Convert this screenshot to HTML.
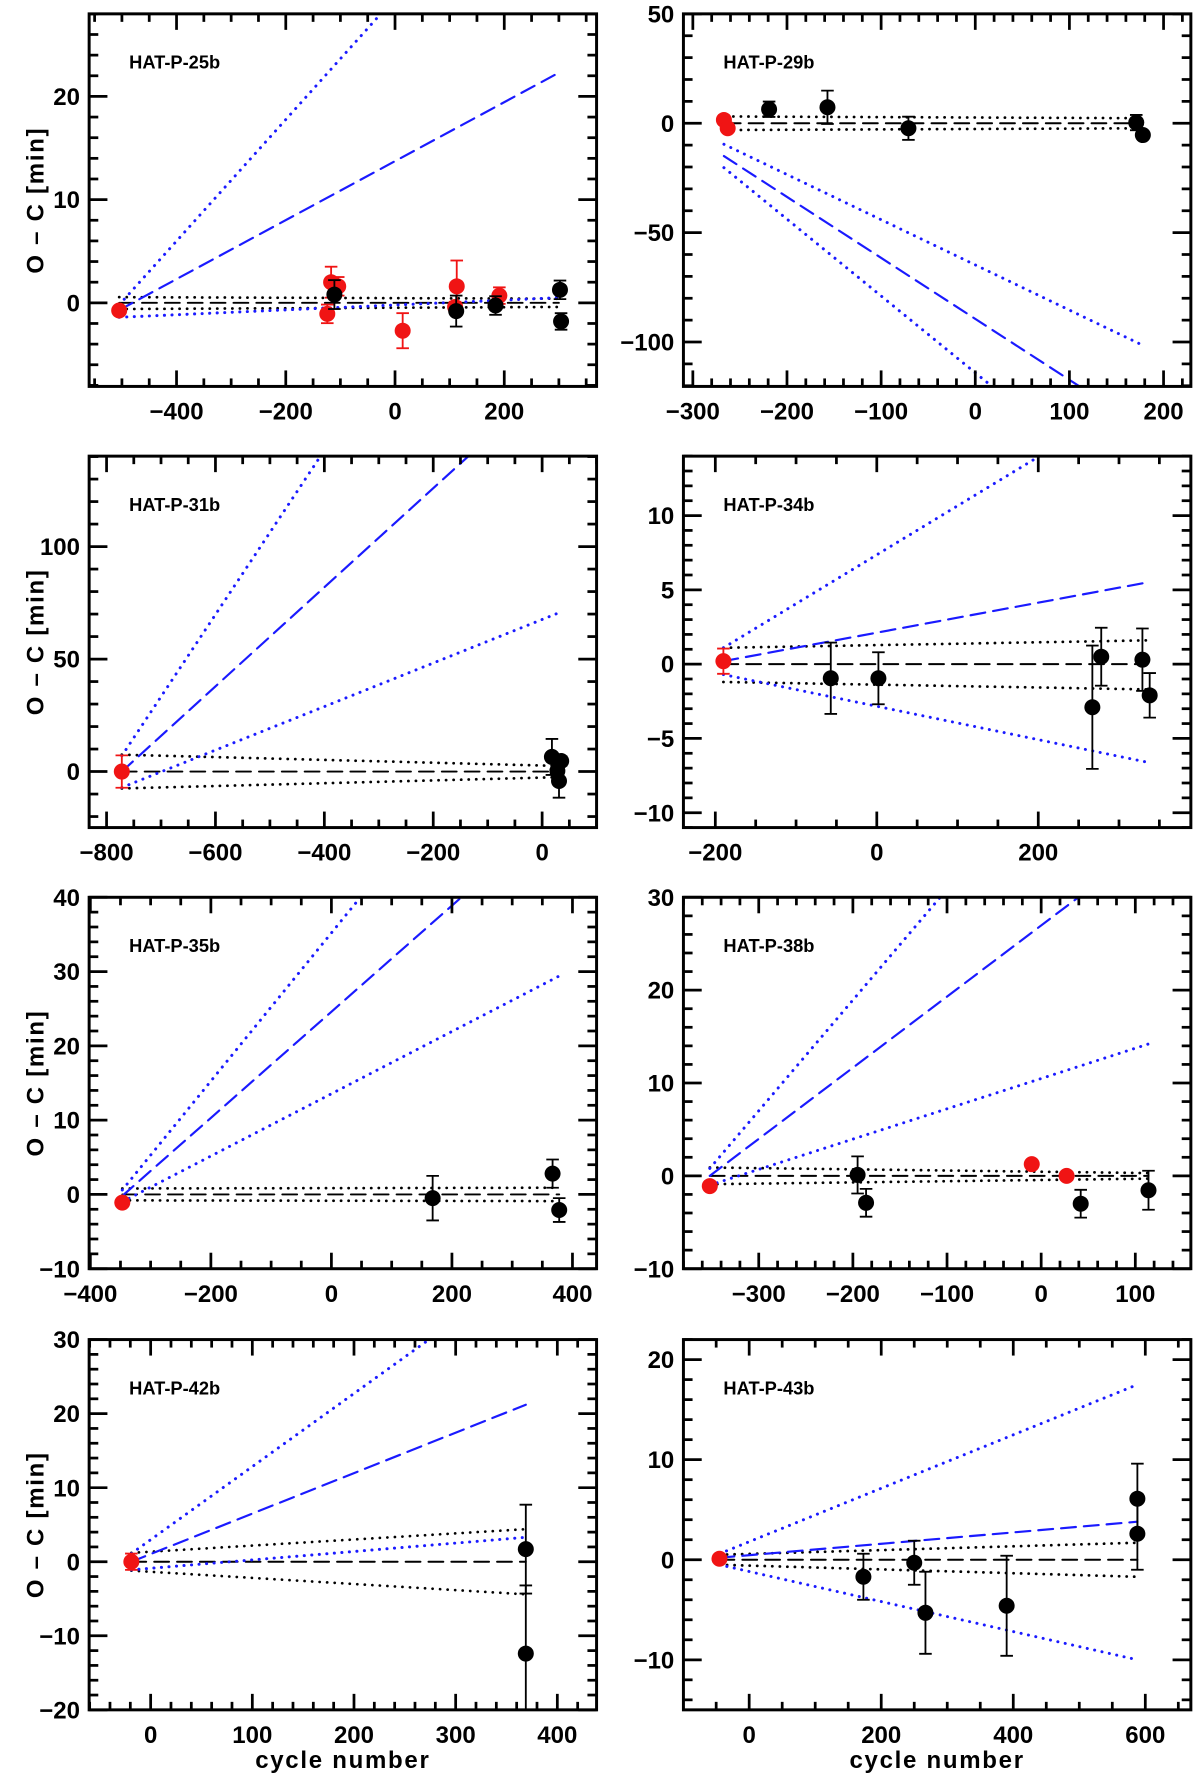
<!DOCTYPE html>
<html><head><meta charset="utf-8"><title>O-C diagrams</title>
<style>
html,body{margin:0;padding:0;background:#fff;}
svg{display:block;}
text{font-family:"Liberation Sans",Arial,sans-serif;font-weight:bold;fill:#000;}
</style></head>
<body>
<svg id="fig" xmlns="http://www.w3.org/2000/svg" width="1200" height="1782" viewBox="0 0 1050 1559">
<rect x="0" y="0" width="1050" height="1559" fill="#fff"/>
</svg>
<script>
// ===== DATA (per panel) =====
// HAT-P-25b
const p25_x   = [-505,-117,-104,-124,14,110,113,191,-111,112,184,302,304];
const p25_y   = [-0.74,2.0,1.6,-1.07,-2.7,-0.4,1.6,0.7,0.8,-0.8,-0.26,1.26,-1.8];
const p25_err = [0.3,1.5,0.9,0.9,1.7,0.5,2.5,0.8,1.4,1.5,0.9,0.9,0.8];
const p25_red = [1,1,1,1,1,1,1,1,0,0,0,0,0];
const p25_xr = [-560,369], p25_yr = [-8.1,28];
const p25_xt = [-400,-200,0,200], p25_yt = [0,10,20];
const p25_fitx = [-505,300], p25_fitUp = [0.55,0.4], p25_fitLo = [-0.6,-0.4];
const p25_altx = [-505,300], p25_alt = [-0.7,22.3], p25_altUp = [-0.2,47.2], p25_altLo = [-1.4,0.5];

// HAT-P-29b
const p29_x   = [-267,-263,-219,-157,-71,171,178];
const p29_y   = [1.5,-2.3,6.4,7.3,-2.3,0.3,-5.4];
const p29_err = [0,0,3.5,7.6,5.3,3.5,1.5];
const p29_red = [1,1,0,0,0,0,0];
const p29_xr = [-310,229], p29_yr = [-120.3,50];
const p29_xt = [-300,-200,-100,0,100,200], p29_yt = [-100,-50,0,50];
const p29_fitx = [-265,175], p29_fitUp = [3.1,2.3], p29_fitLo = [-3.1,-2.3];
const p29_altx = [-267,175], p29_alt = [-15,-138.2], p29_altUp = [-9.6,-100.9], p29_altLo = [-20.3,-175.5];

// HAT-P-31b
const p31_x   = [-772,18,35,28,31];
const p31_y   = [0,6.5,4.7,0.3,-4.2];
const p31_err = [7.2,8,2,2,7.4];
const p31_red = [1,0,0,0,0];
const p31_xr = [-832,100], p31_yr = [-24.9,140.2];
const p31_xt = [-800,-600,-400,-200,0], p31_yt = [0,50,100];
const p31_fitx = [-772,30], p31_fitUp = [7.5,2.5], p31_fitLo = [-7.5,-2.5];
const p31_altx = [-772,30], p31_alt = [0,176.6], p31_altUp = [7,299.7], p31_altLo = [-7.1,70.5];

// HAT-P-34b
const p34_x   = [-190,-57,2,267,278,329,338];
const p34_y   = [0.2,-0.95,-0.95,-2.9,0.5,0.3,-2.1];
const p34_err = [0.85,2.4,1.75,4.15,1.95,2.1,1.5];
const p34_red = [1,0,0,0,0,0,0];
const p34_xr = [-239.5,389], p34_yr = [-11,14];
const p34_xt = [-200,0,200], p34_yt = [-10,-5,0,5,10];
const p34_fitx = [-190,335], p34_fitUp = [1.1,1.6], p34_fitLo = [-1.2,-1.7];
const p34_altx = [-190,335], p34_alt = [0.2,5.5], p34_altUp = [1.1,18.4], p34_altLo = [-0.7,-6.6];

// HAT-P-35b
const p35_x   = [-347,168,367,378];
const p35_y   = [-1.1,-0.5,2.8,-2.1];
const p35_err = [0.4,3,1.9,1.6];
const p35_red = [1,0,0,0];
const p35_xr = [-402,440], p35_yr = [-10,40];
const p35_xt = [-400,-200,0,200,400], p35_yt = [-10,0,10,20,30,40];
const p35_fitx = [-347,378], p35_fitUp = [0.8,0.9], p35_fitLo = [-0.8,-0.9];
const p35_altx = [-347,378], p35_alt = [-0.2,51.6], p35_altUp = [0.6,72.9], p35_altLo = [-1,29.4];

// HAT-P-38b
const p38_x   = [-352,-10,27,-195,-186,42,114];
const p38_y   = [-1.1,1.26,0,0.1,-2.9,-3.0,-1.55];
const p38_err = [0.3,0.3,0.3,2,1.5,1.5,2.1];
const p38_red = [1,1,1,0,0,0,0];
const p38_xr = [-380,159], p38_yr = [-10,30];
const p38_xt = [-300,-200,-100,0,100], p38_yt = [-10,0,10,20,30];
const p38_fitx = [-352,114], p38_fitUp = [0.9,0.3], p38_fitLo = [-0.9,-0.3];
const p38_altx = [-352,114], p38_alt = [0,35.7], p38_altUp = [0.8,56.4], p38_altLo = [-1,14.2];

// HAT-P-42b
const p42_x   = [-19,369,369];
const p42_y   = [0,1.7,-12.4];
const p42_err = [1.1,6,9.2];
const p42_red = [1,0,0];
const p42_xr = [-60.5,438.6], p42_yr = [-20,30];
const p42_xt = [0,100,200,300,400], p42_yt = [-20,-10,0,10,20,30];
const p42_fitx = [-19,369], p42_fitUp = [1.2,4.4], p42_fitLo = [-1.2,-4.4];
const p42_altx = [-19,369], p42_alt = [0,21.2], p42_altUp = [1.1,39.4], p42_altLo = [-1.1,3.3];

// HAT-P-43b
const p43_x   = [-45,173,250,267,390,588,588];
const p43_y   = [0.1,-1.7,-0.3,-5.3,-4.6,6.1,2.6];
const p43_err = [0.3,2.3,2.2,4.1,5,3.5,3.6];
const p43_red = [1,0,0,0,0,0,0];
const p43_xr = [-99.6,669], p43_yr = [-15,22];
const p43_xt = [0,200,400,600], p43_yt = [-10,0,10,20];
const p43_fitx = [-45,588], p43_fitUp = [0.5,1.7], p43_fitLo = [-0.5,-1.7];
const p43_altx = [-45,588], p43_alt = [0.2,3.8], p43_altUp = [0.6,17.5], p43_altLo = [-0.5,-10];

// ===== LAYOUT =====
const NS = "http://www.w3.org/2000/svg";
const svg = document.getElementById('fig');
function mk(tag, attrs, parent){
  const e = document.createElementNS(NS, tag);
  for (const k in attrs) e.setAttribute(k, attrs[k]);
  (parent||svg).appendChild(e);
  return e;
}
const cols = [[78,522],[598,1042]];
const rows = [[12,338],[399,724],[785,1110],[1172,1496]];
const panels = [
  {id:'hat-p-25b', t:'HAT-P-25b', c:0, r:0, x:p25_x, y:p25_y, e:p25_err, red:p25_red, xr:p25_xr, yr:p25_yr, xt:p25_xt, yt:p25_yt, xm:50, ym:2, fx:p25_fitx, fu:p25_fitUp, fl:p25_fitLo, ax:p25_altx, a:p25_alt, au:p25_altUp, al:p25_altLo},
  {id:'hat-p-29b', t:'HAT-P-29b', c:1, r:0, x:p29_x, y:p29_y, e:p29_err, red:p29_red, xr:p29_xr, yr:p29_yr, xt:p29_xt, yt:p29_yt, xm:20, ym:10, fx:p29_fitx, fu:p29_fitUp, fl:p29_fitLo, ax:p29_altx, a:p29_alt, au:p29_altUp, al:p29_altLo},
  {id:'hat-p-31b', t:'HAT-P-31b', c:0, r:1, x:p31_x, y:p31_y, e:p31_err, red:p31_red, xr:p31_xr, yr:p31_yr, xt:p31_xt, yt:p31_yt, xm:50, ym:10, fx:p31_fitx, fu:p31_fitUp, fl:p31_fitLo, ax:p31_altx, a:p31_alt, au:p31_altUp, al:p31_altLo},
  {id:'hat-p-34b', t:'HAT-P-34b', c:1, r:1, x:p34_x, y:p34_y, e:p34_err, red:p34_red, xr:p34_xr, yr:p34_yr, xt:p34_xt, yt:p34_yt, xm:50, ym:1, fx:p34_fitx, fu:p34_fitUp, fl:p34_fitLo, ax:p34_altx, a:p34_alt, au:p34_altUp, al:p34_altLo},
  {id:'hat-p-35b', t:'HAT-P-35b', c:0, r:2, x:p35_x, y:p35_y, e:p35_err, red:p35_red, xr:p35_xr, yr:p35_yr, xt:p35_xt, yt:p35_yt, xm:50, ym:2, fx:p35_fitx, fu:p35_fitUp, fl:p35_fitLo, ax:p35_altx, a:p35_alt, au:p35_altUp, al:p35_altLo},
  {id:'hat-p-38b', t:'HAT-P-38b', c:1, r:2, x:p38_x, y:p38_y, e:p38_err, red:p38_red, xr:p38_xr, yr:p38_yr, xt:p38_xt, yt:p38_yt, xm:20, ym:2, fx:p38_fitx, fu:p38_fitUp, fl:p38_fitLo, ax:p38_altx, a:p38_alt, au:p38_altUp, al:p38_altLo},
  {id:'hat-p-42b', t:'HAT-P-42b', c:0, r:3, x:p42_x, y:p42_y, e:p42_err, red:p42_red, xr:p42_xr, yr:p42_yr, xt:p42_xt, yt:p42_yt, xm:20, ym:2, fx:p42_fitx, fu:p42_fitUp, fl:p42_fitLo, ax:p42_altx, a:p42_alt, au:p42_altUp, al:p42_altLo},
  {id:'hat-p-43b', t:'HAT-P-43b', c:1, r:3, x:p43_x, y:p43_y, e:p43_err, red:p43_red, xr:p43_xr, yr:p43_yr, xt:p43_xt, yt:p43_yt, xm:50, ym:2, fx:p43_fitx, fu:p43_fitUp, fl:p43_fitLo, ax:p43_altx, a:p43_alt, au:p43_altUp, al:p43_altLo}
];
const defs = mk('defs', {});
const RED = '#f01414', BLUE = '#1a1aff';

panels.forEach(function(P){
  const L = cols[P.c][0], R = cols[P.c][1], T = rows[P.r][0], B = rows[P.r][1];
  const sx = v => L + (v - P.xr[0]) / (P.xr[1] - P.xr[0]) * (R - L);
  const sy = v => B - (v - P.yr[0]) / (P.yr[1] - P.yr[0]) * (B - T);
  const g = mk('g', {});
  
  

  const cp = mk('clipPath', {id:'clip-' + P.id}, defs);
  mk('rect', {x:L, y:T, width:R-L, height:B-T}, cp);
  const plot = mk('g', {'clip-path':'url(#clip-' + P.id + ')'}, g);
  
  

  function line(xs, ys, color, dash, w, name){
    const l = mk('line', {x1:sx(xs[0]), y1:sy(ys[0]), x2:sx(xs[1]), y2:sy(ys[1]), stroke:color, 'stroke-width':w, 'stroke-dasharray':dash, 'stroke-linecap':'round'}, plot);
    
    
  }
  line(P.fx, [0,0], '#000', '13 7', 1.7, 'linear-ephemeris-line');
  line(P.fx, P.fu, '#000', '0.1 6.5', 2.4, 'ephemeris-upper-bound');
  line(P.fx, P.fl, '#000', '0.1 6.5', 2.4, 'ephemeris-lower-bound');
  line(P.ax, P.a, BLUE, '13 7', 1.9, 'previous-ephemeris-line');
  line(P.ax, P.au, BLUE, '0.1 6.5', 2.6, 'previous-ephemeris-upper');
  line(P.ax, P.al, BLUE, '0.1 6.5', 2.6, 'previous-ephemeris-lower');

  for (let i = 0; i < P.x.length; i++){
    const col = P.red[i] ? RED : '#000';
    const cx = sx(P.x[i]), cy = sy(P.y[i]);
    const pg = mk('g', {}, plot);
    
    
    if (P.e[i] > 0){
      const y1 = sy(P.y[i] + P.e[i]), y2 = sy(P.y[i] - P.e[i]);
      mk('line', {x1:cx, y1:y1, x2:cx, y2:y2, stroke:col, 'stroke-width':1.6}, pg);
      mk('line', {x1:cx-5.5, y1:y1, x2:cx+5.5, y2:y1, stroke:col, 'stroke-width':1.6}, pg);
      mk('line', {x1:cx-5.5, y1:y2, x2:cx+5.5, y2:y2, stroke:col, 'stroke-width':1.6}, pg);
    }
    mk('circle', {cx:cx, cy:cy, r:7, fill:col}, pg);
  }

  const fr = mk('rect', {x:L, y:T, width:R-L, height:B-T, fill:'none', stroke:'#000', 'stroke-width':2.6}, g);
  
  

  const tk = mk('g', {stroke:'#000', 'stroke-width':2.4}, g);
  
  
  const x0 = Math.ceil(P.xr[0] / P.xm) * P.xm;
  for (let v = x0; v <= P.xr[1] + 1e-9; v += P.xm){
    const major = P.xt.indexOf(Math.round(v)) >= 0;
    const len = major ? 14 : 7, X = sx(v);
    mk('line', {x1:X, y1:B, x2:X, y2:B-len}, tk);
    mk('line', {x1:X, y1:T, x2:X, y2:T+len}, tk);
  }
  const y0 = Math.ceil(P.yr[0] / P.ym - 1e-9) * P.ym;
  for (let v = y0; v <= P.yr[1] + 1e-9; v += P.ym){
    const vv = Math.round(v * 1000) / 1000;
    const major = P.yt.indexOf(vv) >= 0;
    const len = major ? 16 : 8, Y = sy(vv);
    mk('line', {x1:L, y1:Y, x2:L+len, y2:Y}, tk);
    mk('line', {x1:R, y1:Y, x2:R-len, y2:Y}, tk);
  }
  P.xt.forEach(function(v){
    const t = mk('text', {x:sx(v), y:B+29, 'text-anchor':'middle', 'font-size':21}, g);
    t.textContent = v < 0 ? '\u2212' + Math.abs(v) : String(v);
    
    
  });
  P.yt.forEach(function(v){
    const t = mk('text', {x:L-8, y:sy(v)+7.5, 'text-anchor':'end', 'font-size':21}, g);
    t.textContent = v < 0 ? '\u2212' + Math.abs(v) : String(v);
    
    
  });
  const pt = mk('text', {x:L+35, y:T+48, 'font-size':16}, g);
  pt.textContent = P.t;
  
  
  if (P.c === 0){
    const cy = (T + B) / 2;
    const yt = mk('text', {x:0, y:0, 'text-anchor':'middle', 'font-size':21, transform:'translate(38,' + cy + ') rotate(-90)', 'letter-spacing':'1.5'}, g);
    yt.textContent = 'O \u2013 C  [min]';
    yt.setAttribute('xml:space', 'preserve');
    
    
  }
  if (P.r === 3){
    const xt = mk('text', {x:(L+R)/2, y:B+51, 'text-anchor':'middle', 'font-size':21, 'letter-spacing':'1.5'}, g);
    xt.textContent = 'cycle number';
    
    
  }
});
</script>
</body></html>
